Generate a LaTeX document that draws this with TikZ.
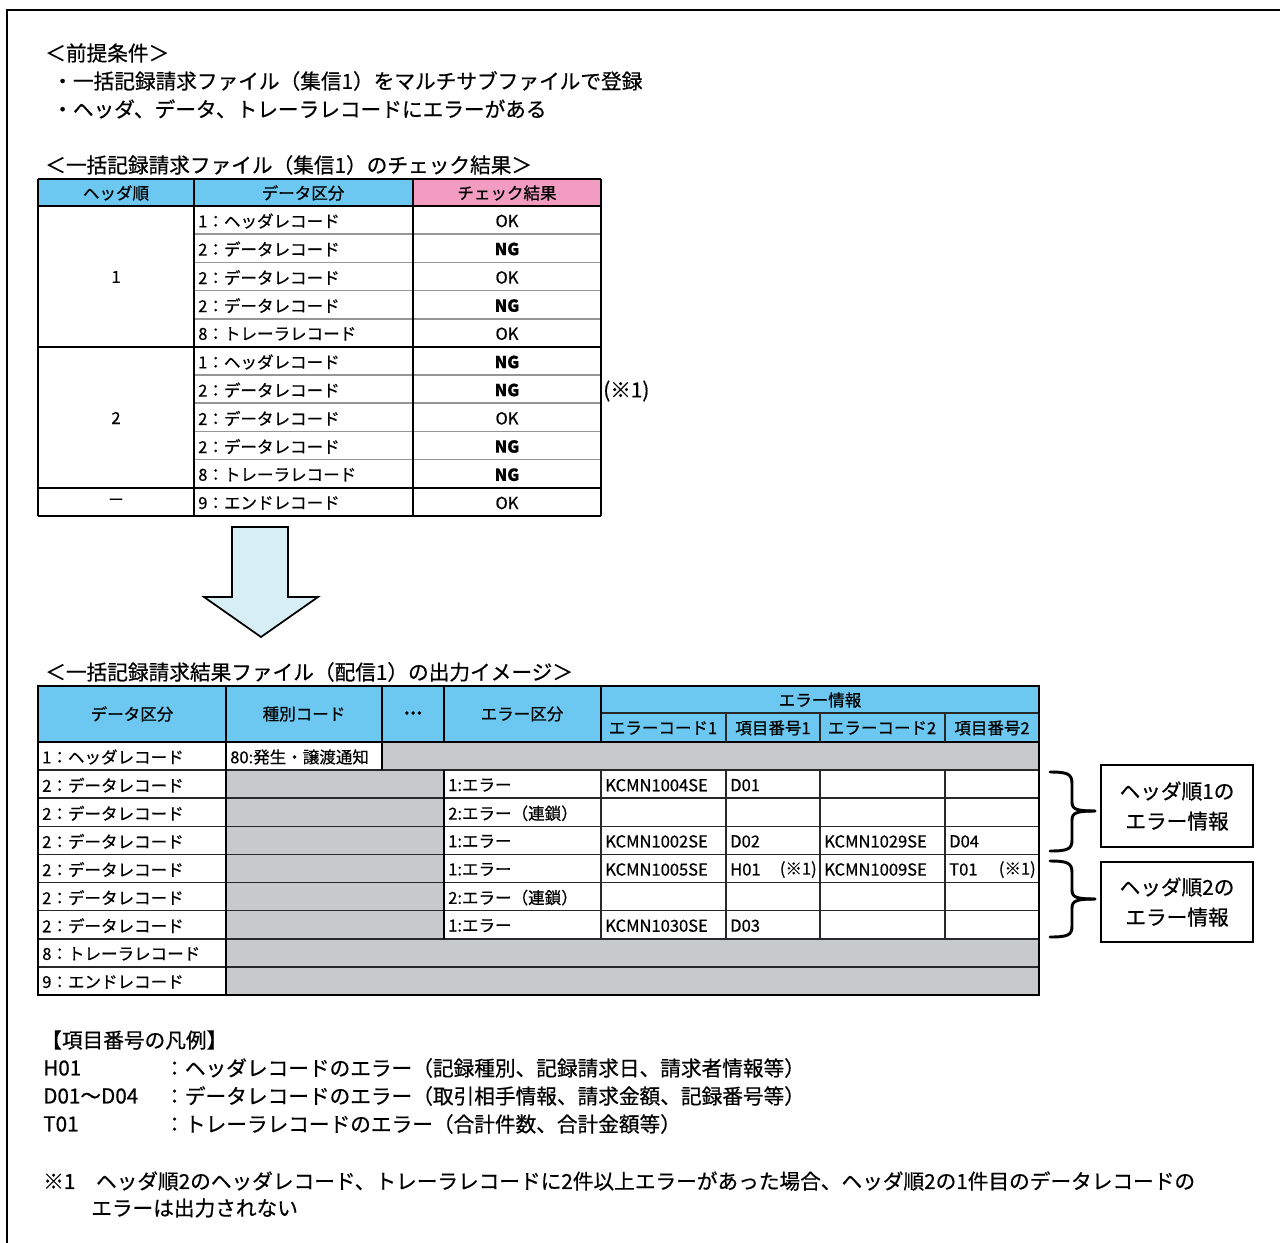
\documentclass[tikz,border=0pt]{standalone}
\usepackage{fontspec}
\setmainfont{Noto Sans CJK JP}[FakeBold=0.6]
\usepackage{tikz}

\begin{document}
\begin{tikzpicture}[x=0.75pt,y=0.75pt,yscale=-1,xscale=1,
  big/.style={anchor=west,inner sep=0.75pt,font=\fontsize{15.5}{18}\selectfont},
  cell/.style={anchor=west,inner sep=0.75pt,font=\fontsize{12.4}{14}\selectfont},
  ccell/.style={cell,anchor=center},
  ngcell/.style={ccell,font=\fontsize{12.4}{14}\selectfont\bfseries},
  rcell/.style={cell,anchor=east},
  rule/.style={line width=1.5pt},
  softrule/.style={line width=1.2pt,color={rgb, 255:red, 150; green, 150; blue, 150}},
  gridrule/.style={line width=1.1pt,color={rgb, 255:red, 40; green, 40; blue, 40}},
  headblue/.style={fill={rgb, 255:red, 108; green, 200; blue, 240}},
  headpink/.style={fill={rgb, 255:red, 242; green, 156; blue, 194}},
  greyout/.style={fill={rgb, 255:red, 200; green, 201; blue, 202}},
  bracket/.style={line width=2.2pt,line cap=round},
  infobox/.style={draw,line width=1.5pt,inner sep=0pt,align=center,minimum width=114pt,
    font=\fontsize{15.5}{22.5}\selectfont},
]
\useasboundingbox (0,0) rectangle (1280,1242);

%Outer frame
\draw [rule] (7,1250) -- (7,10) -- (1290,10) ;

% Text Node
\draw (44,53) node [big] (pre) {＜前提条件＞};
% Text Node
\draw (51,81) node [big] (preA) {・一括記録請求ファイル（集信1）をマルチサブファイルで登録};
% Text Node
\draw (51,109) node [big] (preB) {・ヘッダ、データ、トレーラレコードにエラーがある};
% Text Node
\draw (44,165) node [big] (chkTitle) {＜一括記録請求ファイル（集信1）のチェック結果＞};

%Shape: Rectangle (check table header)
\fill [headblue] (38,179) rectangle (413,206) ;
\fill [headpink] (413,179) rectangle (601,206) ;

%Straight Lines (row separators)
\draw [softrule] (194,234.18) -- (601,234.18) ;
\draw [softrule] (194,262.36) -- (601,262.36) ;
\draw [softrule] (194,290.55) -- (601,290.55) ;
\draw [softrule] (194,318.73) -- (601,318.73) ;
\draw [softrule] (194,375.09) -- (601,375.09) ;
\draw [softrule] (194,403.27) -- (601,403.27) ;
\draw [softrule] (194,431.45) -- (601,431.45) ;
\draw [softrule] (194,459.64) -- (601,459.64) ;
%Straight Lines (group borders)
\draw [rule] (38,179) -- (601,179) ;
\draw [rule] (38,206) -- (601,206) ;
\draw [rule] (38,346.91) -- (601,346.91) ;
\draw [rule] (38,487.82) -- (601,487.82) ;
\draw [rule] (38,516) -- (601,516) ;
\draw [rule] (38,179) -- (38,516) ;
\draw [rule] (194,179) -- (194,516) ;
\draw [rule] (413,179) -- (413,516) ;
\draw [rule] (601,179) -- (601,516) ;

% Text Node
\draw (116,193) node [ccell] (chkH1) {ヘッダ順};
\draw (303,193) node [ccell] (chkH2) {データ区分};
\draw (507,193) node [ccell] (chkH3) {チェック結果};
% Text Node
\draw (116,277) node [ccell] (grp1) {1};
\draw (116,418) node [ccell] (grp2) {2};
\draw (116,502) node [ccell] (grp3) {－};
% Text Node
\draw (197,221) node [cell] (kind1) {1：ヘッダレコード};
\draw (197,249) node [cell] (kind2) {2：データレコード};
\draw (197,277.5) node [cell] (kind3) {2：データレコード};
\draw (197,305.6) node [cell] (kind4) {2：データレコード};
\draw (197,333.8) node [cell] (kind5) {8：トレーラレコード};
\draw (197,362) node [cell] (kind6) {1：ヘッダレコード};
\draw (197,390) node [cell] (kind7) {2：データレコード};
\draw (197,418.4) node [cell] (kind8) {2：データレコード};
\draw (197,446.5) node [cell] (kind9) {2：データレコード};
\draw (197,474.7) node [cell] (kind10) {8：トレーラレコード};
\draw (197,503) node [cell] (kind11) {9：エンドレコード};
% Text Node
\draw (507,221) node [ccell] (res1) {OK};
\draw (507,249) node [ngcell] (res2) {NG};
\draw (507,277.5) node [ccell] (res3) {OK};
\draw (507,305.6) node [ngcell] (res4) {NG};
\draw (507,333.8) node [ccell] (res5) {OK};
\draw (507,362) node [ngcell] (res6) {NG};
\draw (507,390) node [ngcell] (res7) {NG};
\draw (507,418.4) node [ccell] (res8) {OK};
\draw (507,446.5) node [ngcell] (res9) {NG};
\draw (507,474.7) node [ngcell] (res10) {NG};
\draw (507,503) node [ccell] (res11) {OK};
% Text Node
\draw (602,391) node [big] (noteMark) {(※1)};

%Shape: Down Arrow
\draw [line width=1.3pt,fill={rgb, 255:red, 214; green, 238; blue, 244}] (232,527) -- (288,527) -- (288,597) -- (318,597) -- (261,637) -- (204,597) -- (232,597) -- cycle ;

% Text Node
\draw (44,672) node [big] (outTitle) {＜一括記録請求結果ファイル（配信1）の出力イメージ＞};

%Shape: Rectangle (output table fills)
\fill [headblue] (38,686) rectangle (1039,742) ;
\fill [greyout] (382,742) rectangle (1039,770.11) ;
\fill [greyout] (226,770.11) rectangle (444,938.78) ;
\fill [greyout] (226,938.78) rectangle (1039,995) ;

%Straight Lines (output table)
\draw [gridrule] (38,770.11) -- (1039,770.11) ;
\draw [gridrule] (38,798.22) -- (1039,798.22) ;
\draw [gridrule] (38,826.33) -- (1039,826.33) ;
\draw [gridrule] (38,854.44) -- (1039,854.44) ;
\draw [gridrule] (38,882.56) -- (1039,882.56) ;
\draw [gridrule] (38,910.67) -- (1039,910.67) ;
\draw [gridrule] (38,938.78) -- (1039,938.78) ;
\draw [gridrule] (38,966.89) -- (1039,966.89) ;
\draw [gridrule] (601,713) -- (1039,713) ;
\draw [rule] (38,742) -- (1039,742) ;
\draw [rule] (226,686) -- (226,995) ;
\draw [rule] (382,686) -- (382,770.11) ;
\draw [rule] (444,686) -- (444,742) ;
\draw [rule] (444,770.11) -- (444,938.78) ;
\draw [rule] (601,686) -- (601,742) ;
\draw [gridrule] (601,770.11) -- (601,938.78) ;
\draw [gridrule] (726,713) -- (726,742) ;
\draw [gridrule] (726,770.11) -- (726,938.78) ;
\draw [gridrule] (820,713) -- (820,742) ;
\draw [gridrule] (820,770.11) -- (820,938.78) ;
\draw [gridrule] (945,713) -- (945,742) ;
\draw [gridrule] (945,770.11) -- (945,938.78) ;
\draw [rule] (38,686) rectangle (1039,995) ;

% Text Node
\draw (132,714) node [ccell] (outH1) {データ区分};
\draw (304,714) node [ccell] (outH2) {種別コード};
\draw (413,713) node [ccell,font=\fontsize{12.4}{14}\selectfont\bfseries] (outH3) {…};
\draw (522,714) node [ccell] (outH4) {エラー区分};
\draw (820,700) node [ccell] (outH5) {エラー情報};
\draw (663,728) node [ccell] (outH6) {エラーコード1};
\draw (773,728) node [ccell] (outH7) {項目番号1};
\draw (882,728) node [ccell] (outH8) {エラーコード2};
\draw (992,728) node [ccell] (outH9) {項目番号2};
% Text Node
\draw (41,757) node [cell] (rec1) {1：ヘッダレコード};
\draw (41,785.2) node [cell] (rec2) {2：データレコード};
\draw (41,813.3) node [cell] (rec3) {2：データレコード};
\draw (41,841.4) node [cell] (rec4) {2：データレコード};
\draw (41,869.5) node [cell] (rec5) {2：データレコード};
\draw (41,897.6) node [cell] (rec6) {2：データレコード};
\draw (41,925.7) node [cell] (rec7) {2：データレコード};
\draw (41,953.8) node [cell] (rec8) {8：トレーラレコード};
\draw (41,982) node [cell] (rec9) {9：エンドレコード};
% Text Node
\draw (229,757) node [cell] (typeCode) {80:発生・譲渡通知};
% Text Node
\draw (447,785.2) node [cell] (errKind2) {1:エラー};
\draw (447,813.3) node [cell] (errKind3) {2:エラー（連鎖）};
\draw (447,841.4) node [cell] (errKind4) {1:エラー};
\draw (447,869.5) node [cell] (errKind5) {1:エラー};
\draw (447,897.6) node [cell] (errKind6) {2:エラー（連鎖）};
\draw (447,925.7) node [cell] (errKind7) {1:エラー};
% Text Node
\draw (604,785.2) node [cell] (codeA2) {KCMN1004SE};
\draw (604,841.4) node [cell] (codeA4) {KCMN1002SE};
\draw (604,869.5) node [cell] (codeA5) {KCMN1005SE};
\draw (604,925.7) node [cell] (codeA7) {KCMN1030SE};
\draw (729,785.2) node [cell] (itemA2) {D01};
\draw (729,841.4) node [cell] (itemA4) {D02};
\draw (729,869.5) node [cell] (itemA5) {H01};
\draw (818,869.5) node [rcell] (markA5) {(※1)};
\draw (729,925.7) node [cell] (itemA7) {D03};
\draw (823,841.4) node [cell] (codeB4) {KCMN1029SE};
\draw (823,869.5) node [cell] (codeB5) {KCMN1009SE};
\draw (948,841.4) node [cell] (itemB4) {D04};
\draw (948,869.5) node [cell] (itemB5) {T01};
\draw (1037,869.5) node [rcell] (markB5) {(※1)};

%Curve Lines (braces)
\draw [bracket] (1050,772) .. controls (1068,772) and (1072,774) .. (1072,784) -- (1072,802) .. controls (1072,809) and (1076,811) .. (1095,811) ;
\draw [bracket] (1095,811) .. controls (1076,811) and (1072,813) .. (1072,820) -- (1072,840) .. controls (1072,849) and (1068,851) .. (1050,851) ;
\draw [bracket] (1050,861) .. controls (1068,861) and (1072,863) .. (1072,873) -- (1072,890) .. controls (1072,897) and (1076,899) .. (1095,899) ;
\draw [bracket] (1095,899) .. controls (1076,899) and (1072,901) .. (1072,908) -- (1072,926) .. controls (1072,935) and (1068,937) .. (1050,937) ;

% Text Node
\draw (1177,806) node [infobox,minimum height=61.5pt] (grpInfo1) {ヘッダ順1の\\エラー情報};
\draw (1177,902) node [infobox,minimum height=60pt] (grpInfo2) {ヘッダ順2の\\エラー情報};

% Text Node
\draw (40,1040) node [big] (legend) {【項目番号の凡例】};
\draw (42,1068) node [big] (legH) {H01};
\draw (163,1068) node [big] (legHtext) {：ヘッダレコードのエラー（記録種別、記録請求日、請求者情報等）};
\draw (42,1096) node [big] (legD) {D01～D04};
\draw (163,1096) node [big] (legDtext) {：データレコードのエラー（取引相手情報、請求金額、記録番号等）};
\draw (42,1124) node [big] (legT) {T01};
\draw (163,1124) node [big] (legTtext) {：トレーラレコードのエラー（合計件数、合計金額等）};
% Text Node
\draw (42,1181) node [big] (noteA) {※1　ヘッダ順2のヘッダレコード、トレーラレコードに2件以上エラーがあった場合、ヘッダ順2の1件目のデータレコードの};
\draw (90,1208) node [big] (noteB) {エラーは出力されない};

\end{tikzpicture}
\end{document}
